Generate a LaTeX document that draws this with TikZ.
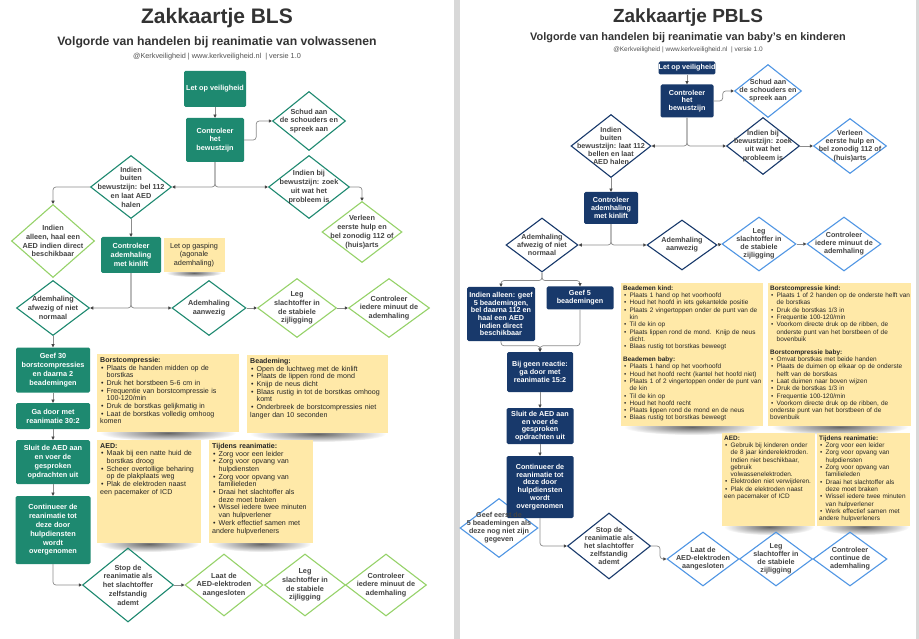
\documentclass[tikz,border=0pt]{standalone}
\usepackage{fontspec}
\setmainfont{Liberation Sans}
\usetikzlibrary{arrows.meta,shapes.geometric,fadings}
\setlength\parindent{0pt}
\setlength\parskip{0pt}
\definecolor{bteal}{RGB}{30,137,112}
\definecolor{blight}{RGB}{150,210,105}
\definecolor{pnavy}{RGB}{24,57,107}
\definecolor{plight}{RGB}{80,150,228}
\definecolor{notey}{RGB}{255,233,168}
\definecolor{conncol}{RGB}{140,140,140}
\definecolor{arrcol}{RGB}{70,70,70}
\definecolor{txtdark}{RGB}{68,68,68}
\definecolor{titlecol}{RGB}{51,51,51}
\definecolor{sepgray}{RGB}{216,216,216}
\tikzfading[name=shfade, inner color=transparent!0, outer color=transparent!100]
\newcommand\bu{\par\hangindent=6.5pt\hangafter=1\noindent\hbox to 6.5pt{\hspace{1pt}\textbullet\hss}}
\newcommand\lb{\hfil\break}
\begin{document}
\begin{tikzpicture}[x=1pt,y=-1pt,
  conn/.style={draw=conncol, line width=0.7pt, rounded corners=3pt, -{Triangle[length=3.2pt,width=3.2pt,color=arrcol]}},
  bbox/.style={fill=bteal, rounded corners=1.5pt, text=white, font=\bfseries\fontsize{7.3}{8.8}\selectfont, align=center, inner sep=0pt},
  pbox/.style={fill=pnavy, rounded corners=1.5pt, text=white, font=\bfseries\fontsize{7.2}{7.7}\selectfont, align=center, inner sep=0pt},
  bdd/.style={diamond, draw=bteal, line width=1.1pt, inner sep=0pt},
  bdl/.style={diamond, draw=blight, line width=1.1pt, inner sep=0pt},
  pdd/.style={diamond, draw=pnavy, line width=1.1pt, inner sep=0pt},
  pdl/.style={diamond, draw=plight, line width=1.1pt, inner sep=0pt},
  btx/.style={text=txtdark, font=\bfseries\fontsize{7.3}{8.8}\selectfont, align=center, inner sep=0pt},
  ptx/.style={text=txtdark, font=\bfseries\fontsize{7.2}{8.1}\selectfont, align=center, inner sep=0pt},
  notebg/.style={fill=notey, inner sep=0pt, anchor=north west},
  bnt/.style={text=black!85, font=\fontsize{7.1}{7.7}\selectfont, align=left, inner sep=0pt, anchor=north west},
  pnt/.style={text=black!85, font=\fontsize{6.45}{7.3}\selectfont, align=left, inner sep=0pt, anchor=north west},
  shadow/.style={fill=black!60, path fading=shfade}
]
\useasboundingbox (0,0) rectangle (919,639);
\fill[white] (0,0) rectangle (919,639);

% ---------- shadows of notes ----------
\fill[shadow] (168,433) ellipse (68pt and 8pt);
\fill[shadow] (318,434) ellipse (68pt and 8pt);
\fill[shadow] (149,544) ellipse (50pt and 8pt);
\fill[shadow] (261,544) ellipse (50pt and 8pt);
\fill[shadow] (194,273) ellipse (28pt and 4pt);
\fill[shadow] (692,427) ellipse (68pt and 8pt);
\fill[shadow] (840,427) ellipse (68pt and 8pt);
\fill[shadow] (769,527) ellipse (45pt and 8pt);
\fill[shadow] (864,527) ellipse (45pt and 8pt);

% ---------- page separators ----------
\fill[sepgray] (454,0) rectangle (460,639);
\fill[sepgray] (916,0) rectangle (919,639);

% ================= BLS =================
\node[font=\bfseries\fontsize{21}{24}\selectfont, text=titlecol] (bt) at (217,18) {Zakkaartje BLS};
\node[font=\bfseries\fontsize{12.2}{14}\selectfont, text=titlecol] (bs) at (217,42) {Volgorde van handelen bij reanimatie van volwassenen};
\node[font=\fontsize{7.3}{8}\selectfont, text=titlecol!85] (bc) at (217,57) {@Kerkveiligheid | www.kerkveiligheid.nl\ \ | versie 1.0};

\node[bbox, minimum width=62pt, minimum height=36pt] (b1) at (215,89) {Let op veiligheid};
\node[bbox, minimum width=58pt, minimum height=44pt] (b2) at (215,140) {Controleer\\het\\bewustzijn};
\node[bdd, minimum width=73pt, minimum height=59pt] (b3) at (309,121) {};
\node[btx] (b3t) at (b3) {Schud aan\\de schouders en\\spreek aan};
\node[bdd, minimum width=81pt, minimum height=63pt] (b4) at (131,187) {};
\node[btx] (b4t) at (b4) {Indien\\buiten\\bewustzijn: bel 112\\en laat AED\\halen};
\node[bdd, minimum width=81pt, minimum height=63pt] (b5) at (309,187) {};
\node[btx] (b5t) at (b5) {Indien bij\\bewustzijn: zoek\\uit wat het\\probleem is};
\node[bdl, minimum width=83pt, minimum height=73pt] (b6) at (53,241) {};
\node[btx] (b6t) at (b6) {Indien\\alleen, haal een\\AED indien direct\\beschikbaar};
\node[bdl, minimum width=80pt, minimum height=61pt] (b7) at (362,232) {};
\node[btx] (b7t) at (b7) {Verleen\\eerste hulp en\\bel zonodig 112 of\\(huis)arts};
\node[bbox, minimum width=60pt, minimum height=36pt] (b8) at (131,255) {Controleer\\ademhaling\\met kinlift};
\node[fill=notey, minimum width=61pt, minimum height=34pt, inner sep=0pt, align=center, text=black!85, font=\fontsize{7.3}{8.8}\selectfont] (b9) at (194,255) {Let op gasping\\(agonale\\ademhaling)};
\node[bdd, minimum width=73pt, minimum height=55pt] (b10) at (53,308) {};
\node[btx] (b10t) at (b10) {Ademhaling\\afwezig of niet\\normaal};
\node[bdd, minimum width=74pt, minimum height=55pt] (b11) at (209,308) {};
\node[btx] (b11t) at (b11) {Ademhaling\\aanwezig};
\node[bdl, minimum width=79pt, minimum height=59pt] (b12) at (297,308) {};
\node[btx] (b12t) at (b12) {Leg\\slachtoffer in\\de stabiele\\zijligging};
\node[bdl, minimum width=81pt, minimum height=59pt] (b13) at (389,308) {};
\node[btx] (b13t) at (b13) {Controleer\\iedere minuut de\\ademhaling};
\node[bbox, minimum width=74pt, minimum height=45pt] (b14) at (53,370) {Geef 30\\borstcompressies\\en daarna 2\\beademingen};
\node[bbox, minimum width=74pt, minimum height=26pt] (b15) at (53,416) {Ga door met\\reanimatie 30:2};
\node[bbox, minimum width=74pt, minimum height=44pt] (b16) at (53,462) {Sluit de AED aan\\en voer de\\gesproken\\opdrachten uit};
\node[bbox, minimum width=75pt, minimum height=68pt] (b17) at (53,530) {Continueer de\\reanimatie tot\\deze door\\hulpdiensten\\wordt\\overgenomen};
\node[bdd, minimum width=91pt, minimum height=74pt] (b18) at (128,585) {};
\node[btx] (b18t) at (b18) {Stop de\\reanimatie als\\het slachtoffer\\zelfstandig\\ademt};
\node[bdl, minimum width=78pt, minimum height=62pt] (b19) at (224,585) {};
\node[btx] (b19t) at (b19) {Laat de\\AED-elektroden\\aangesloten};
\node[bdl, minimum width=81pt, minimum height=62pt] (b20) at (305,585) {};
\node[btx] (b20t) at (b20) {Leg\\slachtoffer in\\de stabiele\\zijligging};
\node[bdl, minimum width=81pt, minimum height=62pt] (b21) at (386,585) {};
\node[btx] (b21t) at (b21) {Controleer\\iedere minuut de\\ademhaling};

% BLS notes
\node[notebg, minimum width=142pt, minimum height=78pt] (bn1) at (97,354) {};
\node[bnt, text width=160pt] (bn1t) at ([xshift=3pt,yshift=-3pt]bn1.north west) {{\bfseries Borstcompressie:}
\bu Plaats de handen midden op de\lb borstkas
\bu Druk het borstbeen 5-6 cm in
\bu Frequentie van borstcompressie is\lb 100-120/min
\bu Druk de borstkas gelijkmatig in
\bu Laat de borstkas volledig omhoog\lb komen};
\node[notebg, minimum width=141pt, minimum height=78pt] (bn2) at (247,355) {};
\node[bnt, text width=160pt] (bn2t) at ([xshift=3pt,yshift=-3pt]bn2.north west) {{\bfseries Beademing:}
\bu Open de luchtweg met de kinlift
\bu Plaats de lippen rond de mond
\bu Knijp de neus dicht
\bu Blaas rustig in tot de borstkas omhoog\lb komt
\bu Onderbreek de borstcompressies niet\lb langer dan 10 seconden};
\node[notebg, minimum width=104pt, minimum height=103pt] (bn3) at (97,440) {};
\node[bnt, text width=120pt] (bn3t) at ([xshift=3pt,yshift=-3pt]bn3.north west) {{\bfseries AED:}
\bu Maak bij een natte huid de\lb borstkas droog
\bu Scheer overtollige beharing\lb op de plakplaats weg
\bu Plak de elektroden naast\lb een pacemaker of ICD};
\node[notebg, minimum width=104pt, minimum height=103pt] (bn4) at (209,440) {};
\node[bnt, text width=120pt] (bn4t) at ([xshift=3pt,yshift=-3pt]bn4.north west) {{\bfseries Tijdens reanimatie:}
\bu Zorg voor een leider
\bu Zorg voor opvang van\lb hulpdiensten
\bu Zorg voor opvang van\lb familieleden
\bu Draai het slachtoffer als\lb deze moet braken
\bu Wissel iedere twee minuten\lb van hulpverlener
\bu Werk effectief samen met\lb andere hulpverleners};

% BLS connectors
\draw[conn] (b1) -- (b2);
\draw[conn] (b2.east) -- ++(12,0) |- (b3.west);
\draw[conn] (b2.south) |- (b4.east);
\draw[conn] (b2.south) |- (b5.west);
\draw[conn] (b4.west) -| (b6.north);
\draw[conn] (b5.east) -| (b7.north);
\draw[conn] (b4.south) -- (b8.north);
\draw[conn] (b8.south) |- (b10.east);
\draw[conn] (b8.south) |- (b11.west);
\draw[conn] (b11.east) -- (b12.west);
\draw[conn] (b12.east) -- (b13.west);
\draw[conn] (b10.south) -- (b14.north);
\draw[conn] (b14) -- (b15);
\draw[conn] (b15) -- (b16);
\draw[conn] (b16) -- (b17);
\draw[conn] (b17.south) |- (b18.west);
\draw[conn] (b18.east) -- (b19.west);

% ================= PBLS =================
\node[font=\bfseries\fontsize{19}{22}\selectfont, text=titlecol] (pt) at (688,18) {Zakkaartje PBLS};
\node[font=\bfseries\fontsize{10.9}{13}\selectfont, text=titlecol] (ps) at (688,38) {Volgorde van handelen bij reanimatie van baby's en kinderen};
\node[font=\fontsize{6.5}{7.5}\selectfont, text=titlecol!85] (pc) at (688,49.5) {@Kerkveiligheid | www.kerkveiligheid.nl\ \ | versie 1.0};

\node[pbox, minimum width=55pt, minimum height=13pt] (p1) at (687,68) {Let op veiligheid};
\node[pbox, minimum width=53pt, minimum height=33pt] (p2) at (687,101) {Controleer\\het\\bewustzijn};
\node[pdl, minimum width=67pt, minimum height=53pt] (p3) at (768,91) {};
\node[ptx] (p3t) at (p3) {Schud aan\\de schouders en\\spreek aan};
\node[pdd, minimum width=80pt, minimum height=63pt] (p4) at (611,146) {};
\node[ptx] (p4t) at (p4) {Indien\\buiten\\bewustzijn: laat 112\\bellen en laat\\AED halen};
\node[pdd, minimum width=73pt, minimum height=57pt] (p5) at (763,146) {};
\node[ptx] (p5t) at (p5) {Indien bij\\bewustzijn: zoek\\uit wat het\\probleem is};
\node[pdl, minimum width=73pt, minimum height=55pt] (p6) at (850,146) {};
\node[ptx] (p6t) at (p6) {Verleen\\eerste hulp en\\bel zonodig 112 of\\(huis)arts};
\node[pbox, minimum width=54pt, minimum height=32pt] (p7) at (611,208) {Controleer\\ademhaling\\met kinlift};
\node[pdd, minimum width=72pt, minimum height=54pt] (p8) at (542,245) {};
\node[ptx] (p8t) at (p8) {Ademhaling\\afwezig of niet\\normaal};
\node[pdd, minimum width=70pt, minimum height=50pt] (p9) at (682,245) {};
\node[ptx] (p9t) at (p9) {Ademhaling\\aanwezig};
\node[pdl, minimum width=74pt, minimum height=54pt] (p10) at (759,244) {};
\node[ptx] (p10t) at (p10) {Leg\\slachtoffer in\\de stabiele\\zijligging};
\node[pdl, minimum width=74pt, minimum height=54pt] (p11) at (844,244) {};
\node[ptx] (p11t) at (p11) {Controleer\\iedere minuut de\\ademhaling};
\node[pbox, minimum width=68pt, minimum height=54pt] (p12) at (501,314) {Indien alleen: geef\\5 beademingen,\\bel daarna 112 en\\haal een AED\\indien direct\\beschikbaar};
\node[pbox, minimum width=67pt, minimum height=23pt] (p13) at (580,298) {Geef 5\\beademingen};
\node[pbox, minimum width=66pt, minimum height=40pt] (p14) at (540,372) {Bij geen reactie:\\ga door met\\reanimatie 15:2};
\node[pbox, minimum width=67pt, minimum height=36pt] (p15) at (540,426) {Sluit de AED aan\\en voer de\\gesproken\\opdrachten uit};
\node[pdl, minimum width=78pt, minimum height=59pt] (p17) at (499,528) {};
\node[pbox, minimum width=67pt, minimum height=62pt] (p16) at (540,487) {Continueer de\\reanimatie tot\\deze door\\hulpdiensten\\wordt\\overgenomen};
\node[ptx] (p17t) at (p17) {Geef eerst de\\5 beademingen als\\deze nog niet zijn\\gegeven};
\node[pdd, minimum width=83pt, minimum height=66pt] (p18) at (609,546) {};
\node[ptx] (p18t) at (p18) {Stop de\\reanimatie als\\het slachtoffer\\zelfstandig\\ademt};
\node[pdl, minimum width=72pt, minimum height=54pt] (p19) at (703,559) {};
\node[ptx] (p19t) at (p19) {Laat de\\AED-elektroden\\aangesloten};
\node[pdl, minimum width=73pt, minimum height=54pt] (p20) at (776,559) {};
\node[ptx] (p20t) at (p20) {Leg\\slachtoffer in\\de stabiele\\zijligging};
\node[pdl, minimum width=74pt, minimum height=54pt] (p21) at (850,559) {};
\node[ptx] (p21t) at (p21) {Controleer\\continue de\\ademhaling};

% PBLS notes
\node[notebg, minimum width=142pt, minimum height=143pt] (pn1) at (621,283) {};
\node[pnt, text width=165pt] (pn1t) at ([xshift=2pt,yshift=-2.5pt]pn1.north west) {{\bfseries Beademen kind:}
\bu Plaats 1 hand op het voorhoofd
\bu Houd het hoofd in iets gekantelde positie
\bu Plaats 2 vingertoppen onder de punt van de\lb kin
\bu Til de kin op
\bu Plaats lippen rond de mond.\ \ Knijp de neus\lb dicht.
\bu Blaas rustig tot borstkas beweegt
\par\vspace{5.5pt}{\bfseries Beademen baby:}
\bu Plaats 1 hand op het voorhoofd
\bu Houd het hoofd recht (kantel het hoofd niet)
\bu Plaats 1 of 2 vingertoppen onder de punt van\lb de kin
\bu Til de kin op
\bu Houd het hoofd recht
\bu Plaats lippen rond de mond en de neus
\bu Blaas rustig tot borstkas beweegt};
\node[notebg, minimum width=143pt, minimum height=143pt] (pn2) at (768,283) {};
\node[pnt, text width=165pt] (pn2t) at ([xshift=2pt,yshift=-2.5pt]pn2.north west) {{\bfseries Borstcompressie kind:}
\bu Plaats 1 of 2 handen op de onderste helft van\lb de borstkas
\bu Druk de borstkas 1/3 in
\bu Frequentie 100-120/min
\bu Voorkom directe druk op de ribben, de\lb onderste punt van het borstbeen of de\lb bovenbuik
\par\vspace{5.5pt}{\bfseries Borstcompressie baby:}
\bu Omvat borstkas met beide handen
\bu Plaats de duimen op elkaar op de onderste\lb helft van de borstkas
\bu Laat duimen naar boven wijzen
\bu Druk de borstkas 1/3 in
\bu Frequentie 100-120/min
\bu Voorkom directe druk op de ribben, de\lb onderste punt van het borstbeen of de\lb bovenbuik};
\node[notebg, minimum width=93pt, minimum height=93pt] (pn3) at (722,433) {};
\node[pnt, text width=110pt] (pn3t) at ([xshift=2pt,yshift=-2.5pt]pn3.north west) {{\bfseries AED:}
\bu Gebruik bij kinderen onder\lb de 8 jaar kinderelektroden.\lb Indien niet beschikbaar,\lb gebruik\lb volwassenelektroden.
\bu Elektroden niet verwijderen.
\bu Plak de elektroden naast\lb een pacemaker of ICD};
\node[notebg, minimum width=93pt, minimum height=93pt] (pn4) at (817,433) {};
\node[pnt, text width=110pt] (pn4t) at ([xshift=2pt,yshift=-2.5pt]pn4.north west) {{\bfseries Tijdens reanimatie:}
\bu Zorg voor een leider
\bu Zorg voor opvang van\lb hulpdiensten
\bu Zorg voor opvang van\lb familieleden
\bu Draai het slachtoffer als\lb deze moet braken
\bu Wissel iedere twee minuten\lb van hulpverlener
\bu Werk effectief samen met\lb andere hulpverleners};

% PBLS connectors
\draw[conn] (p1) -- (p2);
\draw[conn] (p2.east) -- ++(9,0) |- (p3.west);
\draw[conn] (p2.south) |- (p4.east);
\draw[conn] (p2.south) |- (p5.west);
\draw[conn] (p5.east) -- (p6.west);
\draw[conn] (p4.south) -- (p7.north);
\draw[conn] (p7.south) |- (p8.east);
\draw[conn] (p7.south) |- (p9.west);
\draw[conn] (p9.east) -- (p10.west);
\draw[conn] (p10.east) -- (p11.west);
\draw[conn] (p8.south) -- ++(0,8) -| (p12.north);
\draw[conn] (p8.south) -- ++(0,8) -| (p13.north);
\draw[conn] (p12.south) |- ([yshift=6pt]p14.north) -- (p14.north);
\draw[conn] (p13.south) |- ([yshift=6pt]p14.north) -- (p14.north);
\draw[conn] (p14) -- (p15);
\draw[conn] (p15) -- (p16);
\draw[conn] (p16.south) |- (p18.west);
\draw[conn] (p18.east) -- ++(9,0) |- (p19.west);
\end{tikzpicture}
\end{document}
